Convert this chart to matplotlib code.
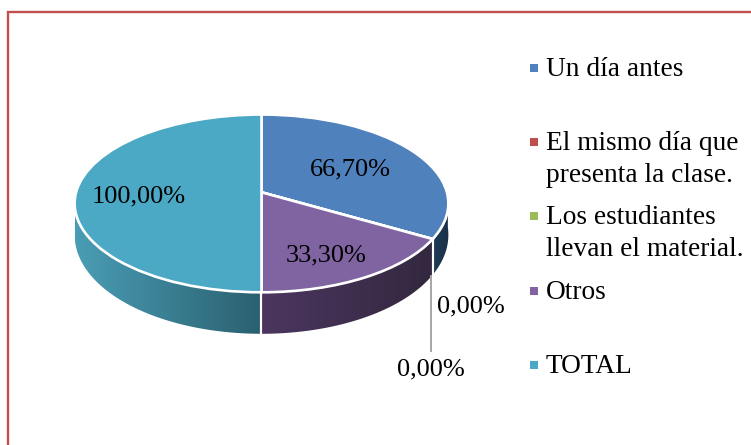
import numpy as np
import matplotlib
matplotlib.use("Agg")
import matplotlib.pyplot as plt
from matplotlib.transforms import Transform
from matplotlib.patches import Polygon
from matplotlib.colors import LinearSegmentedColormap

categories = ["Un día antes", "El mismo día que\npresenta la clase.",
              "Los estudiantes\nllevan el material.", "Otros", "TOTAL"]
values = [66.70, 0.00, 0.00, 33.30, 100.00]
colors = ["#4F81BD", "#C0504D", "#9BBB59", "#8064A2", "#4BA9C5"]
side_shades = [("#1F3B57", "#1B3049"), ("#6E2F2D", "#6E2F2D"), ("#5A6E34", "#5A6E34"),
               ("#4C3660", "#33283F"), ("#4A9DB5", "#2A6070")]

plt.rcParams["font.family"] = ["Liberation Serif", "DejaVu Serif"]
FS_LABEL = 19.0
FS_LEGEND = 19.7
CX, CY, A, B, K = 261.5, 192.3, 185.4, 87.5, 0.125


class Tilt(Transform):
    input_dims = output_dims = 2
    is_affine = False
    has_inverse = False

    def transform_non_affine(self, values):
        p = np.asarray(values, dtype=float)
        w = 1 + K * p[:, 1]
        return np.column_stack((CX + A * p[:, 0] / w, CY - B * p[:, 1] / w))


tilt = Tilt()


def rim(theta_deg):
    t = np.radians(theta_deg)
    return tilt.transform_non_affine(np.column_stack((np.cos(t), np.sin(t))))


fig = plt.figure(figsize=(7.51, 4.45), dpi=100, facecolor="white")
ax = fig.add_axes([0, 0, 1, 1])

wedges, _ = ax.pie(values, colors=colors, startangle=90, counterclock=False, frame=True,
                   wedgeprops=dict(edgecolor="white", linewidth=1.9))
for w in wedges:
    w.set_transform(tilt + ax.transData)
    w.set_zorder(3)

# side wall of the tilted disc
for w, (c0, c1) in zip(wedges, side_shades):
    lo, hi = max(w.theta1, -175), min(w.theta2, -3)
    if hi <= lo:
        continue
    th = np.linspace(lo, hi, 80)
    top = rim(th)
    depth = 30 + 11.5 * np.abs(np.sin(np.radians(th)))
    bot = top + np.column_stack((np.zeros_like(th), depth))
    poly = Polygon(np.vstack((top, bot[::-1])), closed=True, transform=ax.transData)
    cmap = LinearSegmentedColormap.from_list("s", [c0, c1])
    im = ax.imshow(np.linspace(0, 1, 256)[None, :], cmap=cmap, aspect="auto", zorder=2,
                   extent=(top[:, 0].min(), top[:, 0].max(), 340, 190))
    im.set_clip_path(poly)
    for angle in (w.theta1, w.theta2):
        if -175 < angle < -3:
            p = rim(np.array([angle]))[0]
            ax.plot([p[0], p[0]], [p[1], p[1] + 30 + 11.5 * abs(np.sin(np.radians(angle)))],
                    color="white", lw=1.5, zorder=2.5)

ax.set_aspect("auto")
ax.set_xlim(0, 751)
ax.set_ylim(445, 0)
ax.axis("off")

# outer frame
ax.plot([7.5, 7.5, 751], [445, 12, 12], color="#C0504D", lw=1.7, zorder=5, solid_joinstyle="miter")

# leader line
ax.plot([430.5, 430.5], [276, 351], color="#A6A6A6", lw=1.4, zorder=4)

# data labels
fmt = [f"{v:.2f}".replace(".", ",") + "%" for v in values]
label_pos = [(350, 169), (431, 369), (471, 306), (326, 255), (139, 196)]
for s, (x, y) in zip(fmt, label_pos):
    ax.text(x, y, s, fontsize=FS_LABEL, ha="center", va="center", color="black", zorder=6)

# legend
legend_y = [68, 142, 216, 291, 365]
for c, name, y in zip(colors, categories, legend_y):
    ax.scatter([533.5], [y], marker="s", s=30, color=c, linewidths=0, zorder=6)
    ax.text(546, y - 11, name, fontsize=FS_LEGEND, ha="left", va="top", color="black",
            linespacing=1.37, zorder=6)

fig.savefig("out.png", dpi=100)
